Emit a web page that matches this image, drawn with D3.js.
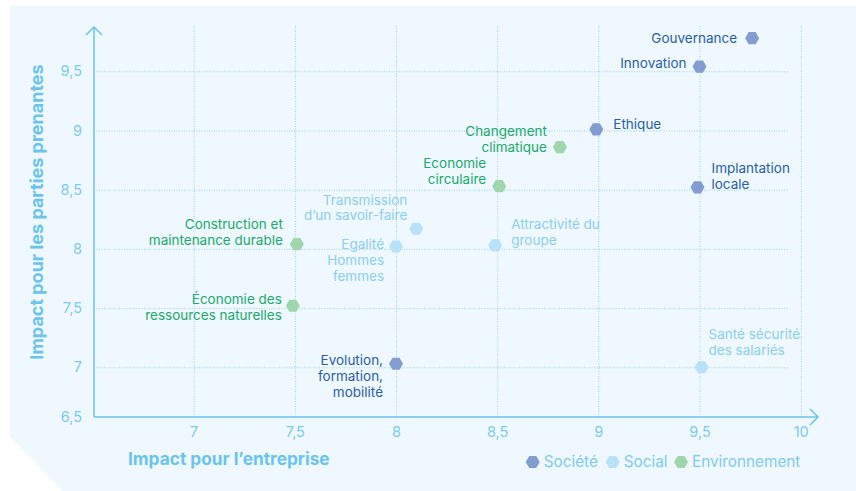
<!DOCTYPE html>
<html><head><meta charset="utf-8">
<script src="https://cdn.jsdelivr.net/npm/d3@7"></script>
<style>
html,body{margin:0;padding:0;background:#fff;}
svg{display:block;font-family:Inter, "Open Sans", sans-serif;}
</style></head>
<body>
<script>
// ---- data ----
const categories = ["Société", "Social", "Environnement"];
const names = ["Gouvernance","Innovation","Ethique","Implantation locale","Evolution, formation, mobilité",
  "Transmission d’un savoir-faire","Egalité Hommes femmes","Attractivité du groupe","Santé sécurité des salariés",
  "Changement climatique","Economie circulaire","Construction et maintenance durable","Économie des ressources naturelles"];
const groups = ["Société","Société","Société","Société","Société",
  "Social","Social","Social","Social",
  "Environnement","Environnement","Environnement","Environnement"];
const impactEntreprise = [9.76, 9.5, 8.99, 9.49, 8.0, 8.1, 8.0, 8.49, 9.51, 8.81, 8.51, 7.51, 7.49];
const impactParties   = [9.78, 9.54, 9.01, 8.52, 7.03, 8.17, 8.02, 8.03, 7.0, 8.86, 8.53, 8.04, 7.52];
const xTicks = [7, 7.5, 8, 8.5, 9, 9.5, 10];
const yTicks = [6.5, 7, 7.5, 8, 8.5, 9, 9.5];

// ---- layout (label lines & placement) ----
const labelLines = {
  "Gouvernance":["Gouvernance"],
  "Innovation":["Innovation"],
  "Ethique":["Ethique"],
  "Implantation locale":["Implantation","locale"],
  "Evolution, formation, mobilité":["Evolution,","formation,","mobilité"],
  "Transmission d’un savoir-faire":["Transmission","d’un savoir-faire"],
  "Egalité Hommes femmes":["Egalité","Hommes","femmes"],
  "Attractivité du groupe":["Attractivité du","groupe"],
  "Santé sécurité des salariés":["Santé sécurité","des salariés"],
  "Changement climatique":["Changement","climatique"],
  "Economie circulaire":["Economie","circulaire"],
  "Construction et maintenance durable":["Construction et","maintenance durable"],
  "Économie des ressources naturelles":["Économie des","ressources naturelles"]
};
const labelPlace = { // [dx, dy of first line centre, anchor]
  "Gouvernance":[-15,0,"end"],
  "Innovation":[-13,-3,"end"],
  "Ethique":[17,-5,"start"],
  "Implantation locale":[14,-19,"start"],
  "Evolution, formation, mobilité":[-13,-3,"end"],
  "Transmission d’un savoir-faire":[-9,-29,"end"],
  "Egalité Hommes femmes":[-12,-2,"end"],
  "Attractivité du groupe":[16,-21,"start"],
  "Santé sécurité des salariés":[7,-33,"start"],
  "Changement climatique":[-13,-16,"end"],
  "Economie circulaire":[-13,-23,"end"],
  "Construction et maintenance durable":[-14,-20,"end"],
  "Économie des ressources naturelles":[-11,-6,"end"]
};
const fillColor = d3.scaleOrdinal().domain(categories).range(["#839cd1","#b9e1f8","#9fd6ac"]);
const textColor = d3.scaleOrdinal().domain(categories).range(["#2b5ea8","#8ccff0","#22a96b"]);
const axisColor = "#6cc4ec", tickColor = "#7fcbef", gridColor = "#95d3f1";

const W = 856, H = 491;
const svg = d3.select("body").append("svg").attr("width", W).attr("height", H);

// background panel
svg.append("path").attr("d", `M10,6 H${W} V${H} H63 L10,437 Z`).attr("fill", "#eef8fe");

const x = d3.scaleLinear().domain([6.5, 10]).range([92.5, 800.7]);
const y = d3.scaleLinear().domain([6.5, 7, 9.5]).range([417, 367.3, 71.3]);
const x0 = 94, yBase = 417;

const fmt = d => String(d).replace(".", ",");

// vertical grid + x tick labels
const gx = svg.append("g").attr("transform", `translate(0,${yBase})`)
  .call(d3.axisBottom(x).tickValues(xTicks).tickFormat(fmt).tickSize(-(yBase - 25)).tickPadding(10));
gx.select(".domain").remove();
gx.selectAll(".tick line").attr("stroke", gridColor).attr("stroke-width", 1).attr("stroke-dasharray", "1,1.5");
gx.selectAll(".tick text").attr("fill", tickColor).attr("font-size", 14.5).attr("font-family", "Inter, sans-serif");

// horizontal grid + y tick labels
const gy = svg.append("g").attr("transform", `translate(${x0},0)`)
  .call(d3.axisLeft(y).tickValues(yTicks).tickFormat(fmt).tickSize(-(788 - x0)).tickPadding(12));
gy.select(".domain").remove();
gy.selectAll(".tick line").attr("stroke", gridColor).attr("stroke-width", 1).attr("stroke-dasharray", "1,1.5")
  .attr("opacity", d => d === 6.5 ? 0 : 1);
gy.selectAll(".tick text").attr("fill", tickColor).attr("font-size", 14.5).attr("font-family", "Inter, sans-serif");

// axes with arrows
const ax = svg.append("g").attr("fill", "none").attr("stroke", axisColor).attr("stroke-width", 1.5);
ax.append("path").attr("d", `M${x0},${yBase} H818 M810,409 L818,417 L810,425`);
ax.append("path").attr("d", `M${x0},${yBase} V27 M86,35 L${x0},27 L102,35`);

// axis titles
svg.append("text").attr("x", 128).attr("y", 465).attr("fill", "#6cc4ec")
  .attr("font-size", 17.3).attr("font-weight", 700).text("Impact pour l’entreprise");
svg.append("text").attr("transform", "translate(43,212) rotate(-90)").attr("text-anchor", "middle")
  .attr("fill", "#6cc4ec").attr("font-size", 18).attr("font-weight", 700).text("Impact pour les parties prenantes");

// hexagon generator (flat top)
const hex = r => {
  const pts = d3.range(6).map(i => { const a = Math.PI / 3 * i; return [r * Math.cos(a), r * Math.sin(a)]; });
  return "M" + pts.map(p => p.join(",")).join("L") + "Z";
};

const data = names.map((n, i) => ({ name: n, group: groups[i], xv: impactEntreprise[i], yv: impactParties[i] }));

const pts = svg.append("g").selectAll("g").data(data).join("g")
  .attr("transform", d => `translate(${x(d.xv)},${y(d.yv)})`);
pts.append("path").attr("d", hex(7)).attr("fill", d => fillColor(d.group));
pts.each(function(d) {
  const [dx, dy, anchor] = labelPlace[d.name];
  const t = d3.select(this).append("text").attr("text-anchor", anchor)
    .attr("fill", textColor(d.group)).attr("font-size", 13.5);
  labelLines[d.name].forEach((line, k) => {
    t.append("tspan").attr("x", dx).attr("y", dy + k * 15.7).attr("dy", "0.35em").text(line);
  });
});

// legend
const legX = [532.7, 612.7, 681];
const leg = svg.append("g").selectAll("g").data(categories).join("g")
  .attr("transform", (d, i) => `translate(${legX[i]},462)`);
leg.append("path").attr("d", hex(7)).attr("fill", d => fillColor(d));
leg.append("text").attr("x", 11).attr("dy", "0.35em").attr("fill", tickColor)
  .attr("font-size", 15.3).text(d => d);
</script>
</body></html>
